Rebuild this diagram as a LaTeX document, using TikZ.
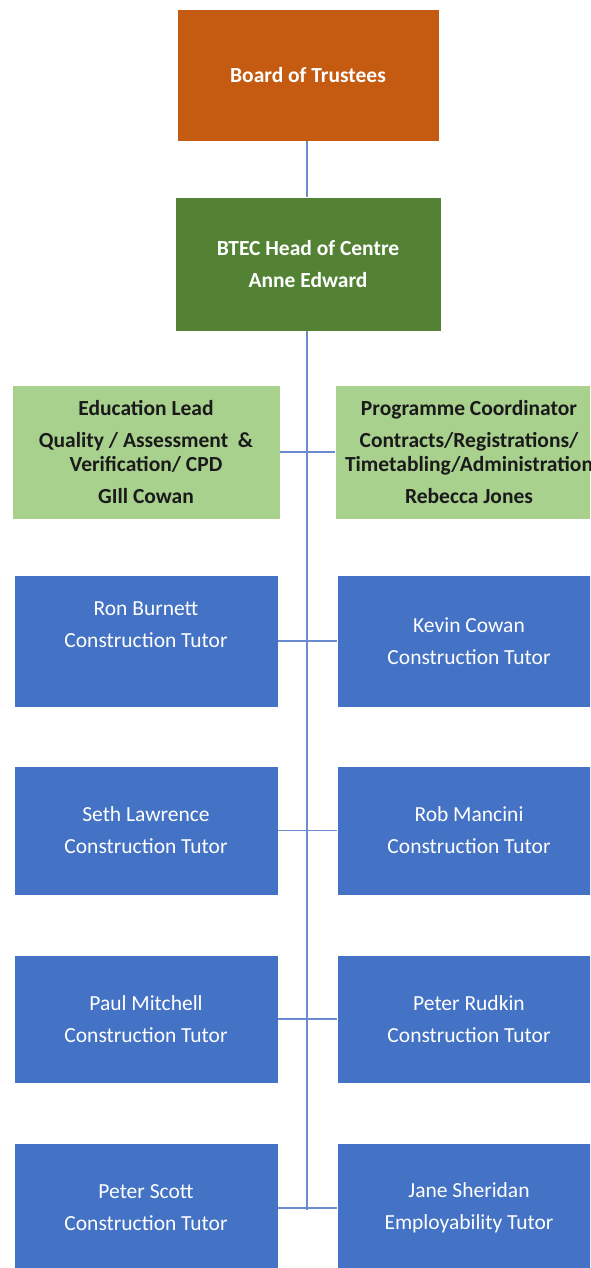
\documentclass[tikz,border=0pt]{standalone}
\usepackage{fontspec}
\setmainfont{Carlito}
\definecolor{orangebox}{HTML}{C55A11}
\definecolor{greenbox}{HTML}{548235}
\definecolor{lightgreen}{HTML}{A9D18E}
\definecolor{bluebox}{HTML}{4472C4}
\definecolor{linecol}{HTML}{6A8BCF}
\definecolor{darktext}{HTML}{1A1A1A}
\begin{document}
\begin{tikzpicture}[x=1pt,y=-1pt,
  box/.style={rectangle, inner sep=0pt, align=center, draw=white, line width=0.4pt},
  topbox/.style={box, text=white, font=\fontsize{21.5}{32}\selectfont\bfseries},
  lgbox/.style={box, fill=lightgreen, text=darktext, minimum width=268pt, minimum height=134pt, font=\fontsize{21.5}{24}\selectfont\bfseries},
  tutor/.style={box, fill=bluebox, text=white, minimum width=264pt, font=\fontsize{21.5}{32}\selectfont},
  conn/.style={draw=linecol, line width=1.8pt}
]
\useasboundingbox (0,0) rectangle (590,1268);
\clip (0,0) rectangle (590,1268);
\fill[white] (0,0) rectangle (590,1268);

\node[topbox, fill=orangebox, minimum width=262pt, minimum height=132pt] (board) at (308,75) {Board of Trustees};
\node[topbox, fill=greenbox, minimum width=266pt, minimum height=134pt] (head) at (308,264) {BTEC Head of Centre\\Anne Edward};

\node[lgbox] (edu) at (146,452) {Education Lead\\[8pt]Quality / Assessment \ \&\\Verification/ CPD\\[8pt]GIll Cowan};
\node[lgbox] (prog) at (469,452) {Programme Coordinator\\[8pt]Contracts/Registrations/\\Timetabling/Administration\\[8pt]Rebecca Jones};

\node[tutor, minimum height=132pt] (t1l) at (146,641) {Ron Burnett\\Construction Tutor\\\mbox{}};
\node[tutor, minimum height=132pt] (t1r) at (469,641) {Kevin Cowan\\Construction Tutor};
\node[tutor, minimum height=129pt] (t2l) at (146,830.5) {Seth Lawrence\\Construction Tutor};
\node[tutor, minimum height=129pt] (t2r) at (469,830.5) {Rob Mancini\\Construction Tutor};
\node[tutor, minimum height=128pt] (t3l) at (146,1019) {Paul Mitchell\\Construction Tutor};
\node[tutor, minimum height=128pt] (t3r) at (469,1019) {Peter Rudkin\\Construction Tutor};
\node[tutor, minimum height=130pt] (t4l) at (146,1208) {Peter Scott\\Construction Tutor};
\node[tutor, minimum height=130pt] (t4r) at (469,1208) {Jane Sheridan\\Employability Tutor};

\coordinate (trunkend) at (307,1210);
\draw[conn] (board.south -| trunkend) -- (head.north -| trunkend);
\draw[conn] (head.south -| trunkend) -- (trunkend);
\draw[conn] (edu.east) -- (prog.west);
\draw[conn] (t1l.east) -- (t1r.west);
\draw[conn] (t2l.east) -- (t2r.west);
\draw[conn] (t3l.east) -- (t3r.west);
\draw[conn] (t4l.east) -- (t4r.west);
\end{tikzpicture}
\end{document}
